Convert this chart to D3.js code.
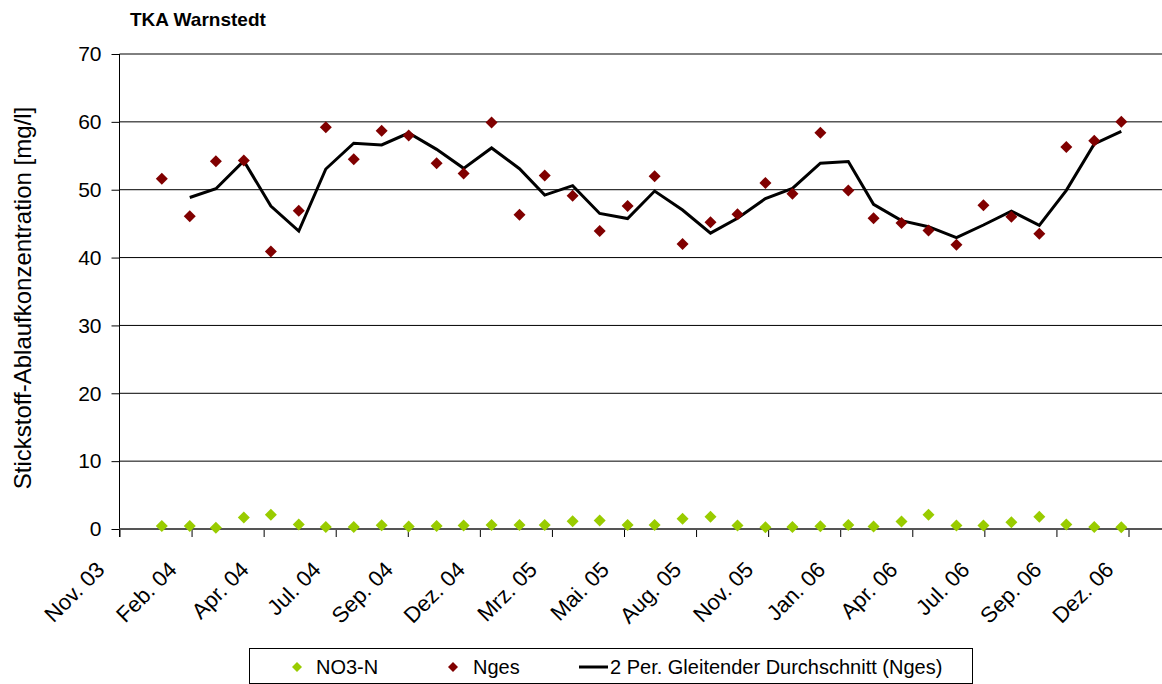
<!DOCTYPE html>
<html>
<head>
<meta charset="utf-8">
<script src="https://cdn.jsdelivr.net/npm/d3@7"></script>
<style>
  body { margin: 0; background: #fff; }
  svg { display: block; font-family: "Liberation Sans", Arial, sans-serif; }
</style>
</head>
<body>
<svg></svg>
<script>

// monthly sampling dates (first of month)
var months = ["2004-01","2004-02","2004-03","2004-04","2004-05","2004-06","2004-07","2004-08","2004-09","2004-10","2004-11","2004-12",
              "2005-01","2005-02","2005-03","2005-04","2005-05","2005-06","2005-07","2005-08","2005-09","2005-10","2005-11","2005-12",
              "2006-01","2006-02","2006-03","2006-04","2006-05","2006-06","2006-07","2006-08","2006-09","2006-10","2006-11","2006-12"]

var no3n = [0.45,0.45,0.2,1.7,2.1,0.65,0.3,0.3,0.55,0.35,0.45,0.5,
            0.6,0.6,0.6,1.15,1.25,0.6,0.6,1.5,1.8,0.5,0.25,0.3,
            0.4,0.6,0.35,1.1,2.1,0.5,0.5,1.0,1.8,0.65,0.3,0.25]

var nges = [51.6,46.1,54.2,54.3,40.9,46.9,59.2,54.5,58.7,58.0,53.9,52.4,
            59.9,46.3,52.1,49.1,43.9,47.6,52.0,42.0,45.2,46.4,51.0,49.4,
            58.4,49.9,45.8,45.1,44.0,41.9,47.7,46.0,43.5,56.3,57.2,60.0]

// 2 Per. gleitender Durchschnitt, starts at the 2nd month
var gleitend = [null,48.85,50.15,54.25,47.6,43.9,53.05,56.85,56.6,58.35,55.95,53.15,
                56.15,53.1,49.2,50.6,46.5,45.75,49.8,47.0,43.6,45.8,48.7,50.2,
                53.9,54.15,47.85,45.45,44.55,42.95,44.8,46.85,44.75,49.9,56.75,58.6]

var tickLabels = ["Nov. 03","Feb. 04","Apr. 04","Jul. 04","Sep. 04","Dez. 04","Mrz. 05","Mai. 05",
                  "Aug. 05","Nov. 05","Jan. 06","Apr. 06","Jul. 06","Sep. 06","Dez. 06"]

var yTicks = [0,10,20,30,40,50,60,70]

var width = 1162
var height = 684

var svg = d3.select("svg")
  .attr("width", width)
  .attr("height", height)

var parseMonth = d3.timeParse("%Y-%m")
var dates = months.map(parseMonth)

// Excel date axis: starts mid Nov 03, a major tick every 80 days
var axisStart = new Date(2003, 10, 15)
var tickDates = tickLabels.map(function(d, i){ return d3.timeDay.offset(axisStart, i*80) })

var xScale = d3.scaleTime()
  .domain([axisStart, tickDates[tickDates.length-1]])
  .range([119.5, 1128.5])

var yScale = d3.scaleLinear()
  .domain([0,70])
  .range([529, 54])

// gridlines
svg.append("g")
  .selectAll("line")
  .data(yTicks.filter(function(d){ return d > 0 }))
  .enter()
  .append("line")
  .attr("x1", 119.5)
  .attr("x2", width)
  .attr("y1", function(d){ return yScale(d) })
  .attr("y2", function(d){ return yScale(d) })
  .attr("stroke", "#000")
  .attr("stroke-width", 1)

// y axis
var yAxis = d3.axisLeft(yScale)
  .tickValues(yTicks)
  .tickSize(8)
  .tickPadding(10)

var gy = svg.append("g")
  .attr("transform", "translate(119.5,0)")
  .call(yAxis)
gy.select(".domain").attr("stroke", "#000").attr("d", "M0,54V537")
gy.selectAll("text")
  .attr("font-size", 21)
  .attr("fill", "#000")
  .attr("font-family", "Liberation Sans, Arial, sans-serif")

// x axis (zero line)
var xAxis = d3.axisBottom(xScale)
  .tickValues(tickDates)
  .tickSize(8)
  .tickFormat(function(d, i){ return tickLabels[i] })

var gx = svg.append("g")
  .attr("transform", "translate(0," + yScale(0) + ")")
  .call(xAxis)
gx.select(".domain").remove()
gx.append("line")
  .attr("x1", 119.5)
  .attr("x2", width)
  .attr("stroke", "#555")
  .attr("stroke-width", 2)
gx.selectAll(".tick line").attr("stroke", "#000")
gx.selectAll("text")
  .attr("font-size", 22)
  .attr("fill", "#000")
  .attr("font-family", "Liberation Sans, Arial, sans-serif")
  .attr("text-anchor", "end")
  .attr("y", null)
  .attr("dy", null)
  .attr("transform", "translate(-14,42) rotate(-45)")

// moving average line
var drawLine = d3.line()
  .defined(function(d){ return d != null })
  .x(function(d, i){ return xScale(dates[i]) })
  .y(function(d){ return yScale(d) })

svg.append("path")
  .datum(gleitend)
  .attr("d", drawLine)
  .attr("fill", "none")
  .attr("stroke", "#000")
  .attr("stroke-width", 3)
  .attr("stroke-linejoin", "miter")

var diamond = d3.symbol().type(d3.symbolSquare).size(72)

svg.append("g")
  .selectAll("path")
  .data(nges)
  .enter()
  .append("path")
  .attr("d", diamond)
  .attr("transform", function(d, i){ return "translate(" + xScale(dates[i]) + "," + yScale(d) + ") rotate(45)" })
  .attr("fill", "#800000")

svg.append("g")
  .selectAll("path")
  .data(no3n)
  .enter()
  .append("path")
  .attr("d", diamond)
  .attr("transform", function(d, i){ return "translate(" + xScale(dates[i]) + "," + yScale(d) + ") rotate(45)" })
  .attr("fill", "#99cc00")

// title
svg.append("text")
  .attr("x", 130)
  .attr("y", 26)
  .attr("font-size", 19)
  .attr("font-weight", "bold")
  .text("TKA Warnstedt")

// y label
svg.append("text")
  .attr("transform", "translate(31,298) rotate(-90)")
  .attr("text-anchor", "middle")
  .attr("font-size", 24)
  .text("Stickstoff-Ablaufkonzentration [mg/l]")

// legend
var legend = svg.append("g")
legend.append("rect")
  .attr("x", 249.5)
  .attr("y", 648.5)
  .attr("width", 723)
  .attr("height", 35)
  .attr("fill", "#fff")
  .attr("stroke", "#000")

var legendY = 667
legend.append("path")
  .attr("d", d3.symbol().type(d3.symbolSquare).size(50))
  .attr("transform", "translate(297," + legendY + ") rotate(45)")
  .attr("fill", "#99cc00")
legend.append("text")
  .attr("x", 316).attr("y", legendY).attr("dy", "0.35em")
  .attr("font-size", 20)
  .text("NO3-N")

legend.append("path")
  .attr("d", d3.symbol().type(d3.symbolSquare).size(50))
  .attr("transform", "translate(453," + legendY + ") rotate(45)")
  .attr("fill", "#800000")
legend.append("text")
  .attr("x", 473).attr("y", legendY).attr("dy", "0.35em")
  .attr("font-size", 20)
  .text("Nges")

legend.append("line")
  .attr("x1", 579).attr("x2", 608)
  .attr("y1", legendY).attr("y2", legendY)
  .attr("stroke", "#000")
  .attr("stroke-width", 3)
legend.append("text")
  .attr("x", 610).attr("y", legendY).attr("dy", "0.35em")
  .attr("font-size", 20)
  .text("2 Per. Gleitender Durchschnitt (Nges)")

</script>
</body>
</html>
